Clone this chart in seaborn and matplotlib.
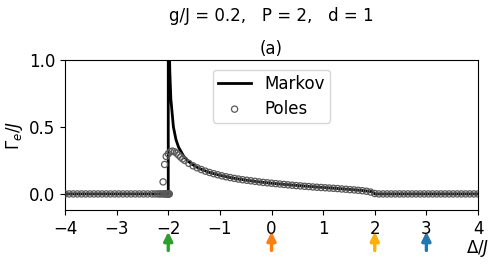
import matplotlib
matplotlib.use("Agg")
import matplotlib.pyplot as plt
import seaborn as sns
import pandas as pd
import numpy as np

# ---- data ----
markov_delta = [-4.0, -2.0, -1.999, -1.995, -1.99, -1.98, -1.97, -1.95, -1.9, -1.85, -1.8,
                -1.7, -1.6, -1.5, -1.4, -1.2, -1.0, -0.8, -0.6, -0.4, -0.2, 0.0, 0.2,
                0.4, 0.6, 0.8, 1.0, 1.2, 1.4, 1.6, 1.8, 1.9, 1.96, 2.0, 4.0]
markov_gamma = [0.0, 0.0, 3.5, 2.26, 1.60, 1.13, 0.92, 0.71, 0.50, 0.405, 0.349,
                0.281, 0.240, 0.212, 0.190, 0.160, 0.139, 0.122, 0.109, 0.098, 0.088, 0.080, 0.073,
                0.066, 0.060, 0.054, 0.048, 0.043, 0.037, 0.031, 0.024, 0.019, 0.016, 0.0, 0.0]

poles_delta = [-4.00, -3.92, -3.84, -3.76, -3.68, -3.60, -3.52, -3.44, -3.36, -3.28,
               -3.20, -3.12, -3.04, -2.96, -2.88, -2.80, -2.72, -2.64, -2.56, -2.48,
               -2.40, -2.32, -2.26, -2.20, -2.16, -2.12, -2.08, -2.06, -2.04, -2.02,
               -2.01, -2.00, -1.99, -1.98,
               -2.10, -2.07, -2.04, -2.00, -1.96, -1.92, -1.88, -1.84, -1.80, -1.76,
               -1.72, -1.68, -1.60, -1.52, -1.44, -1.36, -1.28, -1.20, -1.12, -1.04,
               -0.96, -0.88, -0.80, -0.72, -0.64, -0.56, -0.48, -0.40, -0.32, -0.24,
               -0.16, -0.08, 0.00, 0.08, 0.16, 0.24, 0.32, 0.40, 0.48, 0.56,
               0.64, 0.72, 0.80, 0.88, 0.96, 1.04, 1.12, 1.20, 1.28, 1.36,
               1.44, 1.52, 1.60, 1.68, 1.76, 1.84, 1.92, 2.00, 2.08, 2.16,
               2.24, 2.32, 2.40, 2.48, 2.56, 2.64, 2.72, 2.80, 2.88, 2.96,
               3.04, 3.12, 3.20, 3.28, 3.36, 3.44, 3.52, 3.60, 3.68, 3.76,
               3.84, 3.92, 4.00]
poles_gamma = [0.0, 0.0, 0.0, 0.0, 0.0, 0.0, 0.0, 0.0, 0.0, 0.0,
               0.0, 0.0, 0.0, 0.0, 0.0, 0.0, 0.0, 0.0, 0.0, 0.0,
               0.0, 0.0, 0.0, 0.0, 0.0, 0.0, 0.0, 0.0, 0.0, 0.0,
               0.0, 0.0, 0.0, 0.0,
               0.09, 0.22, 0.28, 0.30, 0.315, 0.32, 0.315, 0.305, 0.29, 0.275,
               0.262, 0.25, 0.228, 0.21, 0.195, 0.182, 0.170, 0.160, 0.151, 0.143,
               0.135, 0.128, 0.122, 0.116, 0.111, 0.106, 0.102, 0.098, 0.094, 0.090,
               0.086, 0.083, 0.080, 0.077, 0.074, 0.071, 0.068, 0.065, 0.062, 0.060,
               0.057, 0.055, 0.052, 0.050, 0.048, 0.046, 0.044, 0.042, 0.040, 0.037,
               0.035, 0.032, 0.030, 0.027, 0.024, 0.020, 0.014, 0.003, 0.0, 0.0,
               0.0, 0.0, 0.0, 0.0, 0.0, 0.0, 0.0, 0.0, 0.0, 0.0,
               0.0, 0.0, 0.0, 0.0, 0.0, 0.0, 0.0, 0.0, 0.0, 0.0,
               0.0, 0.0, 0.0]

arrow_delta = [-2, 0, 2, 3]
arrow_colors = ["#2ca02c", "#ff7f0e", "#ffb000", "#1f77b4"]

xticks = [-4, -3, -2, -1, 0, 1, 2, 3, 4]
yticks = [0.0, 0.5, 1.0]

# ---- figure ----
fs = 12
fig = plt.figure(figsize=(4.96, 2.64), dpi=100)
ax = fig.add_axes([65 / 496, 1 - 210 / 264, (478 - 65) / 496, 150 / 264])

markov_df = pd.DataFrame({"delta": markov_delta, "gamma": markov_gamma})
poles_df = pd.DataFrame({"delta": poles_delta, "gamma": poles_gamma})

sns.lineplot(data=markov_df, x="delta", y="gamma", ax=ax, color="black", lw=2,
             label="Markov", estimator=None, sort=False)
sns.scatterplot(data=poles_df, x="delta", y="gamma", ax=ax, s=20, facecolor="none",
                edgecolor="0.35", linewidth=0.9, label="Poles", zorder=3)

ax.set_xlim(-4, 4)
ax.set_ylim(-0.12, 1.0)
ax.set_xticks(xticks)
ax.set_yticks(yticks)
ax.set_xticklabels([f"{t:d}".replace("-", "\u2212") for t in xticks], fontsize=fs)
ax.set_yticklabels([f"{t:.1f}" for t in yticks], fontsize=fs)
ax.set_xlabel(r"$\Delta/J$", fontsize=fs)
ax.xaxis.set_label_coords(1.0, -0.185)
ax.set_ylabel(r"$\Gamma_e/J$", fontsize=fs, labelpad=3)
ax.set_title("(a)", fontsize=fs, pad=4)
fig.text(0.547, 0.939, "g/J = 0.2,   P = 2,   d = 1", ha="center", va="center", fontsize=fs)

leg = ax.legend(loc="upper center", fontsize=fs, frameon=True, borderpad=0.3,
                handlelength=2.0, labelspacing=0.4, bbox_to_anchor=(0.5, 0.99))

for xd, c in zip(arrow_delta, arrow_colors):
    ax.annotate("", xy=(xd, -0.145), xycoords=("data", "axes fraction"),
                xytext=(xd, -0.27), textcoords=("data", "axes fraction"),
                arrowprops=dict(arrowstyle="-|>", color=c, lw=2.4, mutation_scale=13,
                                shrinkA=0, shrinkB=0),
                annotation_clip=False)

fig.savefig("out.png", dpi=100)
